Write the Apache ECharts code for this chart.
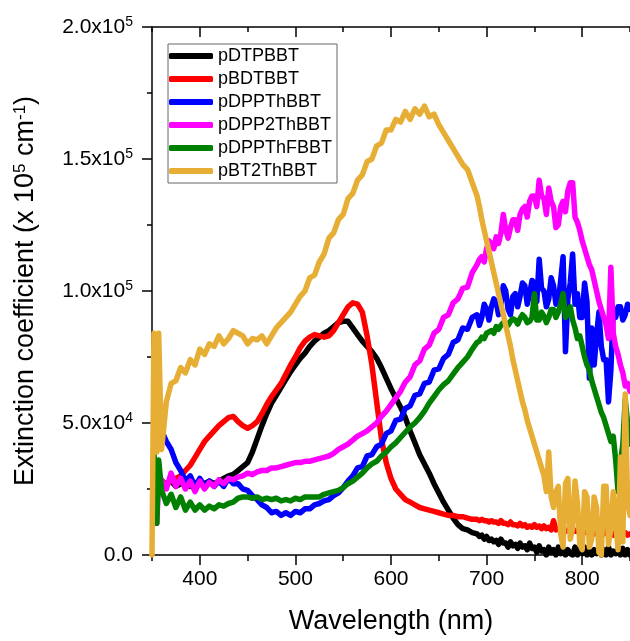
<!DOCTYPE html>
<html>
<head>
<meta charset="utf-8">
<script src="https://cdn.jsdelivr.net/npm/echarts@6/dist/echarts.min.js"></script>
<style>
html,body{margin:0;padding:0;background:#fff;}
#chart{width:630px;height:641px;}
</style>
</head>
<body>
<div id="chart"></div>
<script>
// Wavelength grid (nm)
const wavelengths = [350,352,355,357,
360,365,370,375,380,385,390,395,400,405,
410,415,420,425,430,435,440,445,450,455,
460,465,470,475,480,485,490,495,500,505,
510,515,520,525,530,535,540,545,550,555,
560,565,570,575,580,585,590,595,600,605,
610,615,620,625,630,635,640,645,650,655,
660,665,670,675,680,685,
690,692.5,695,697.5,700,702.5,705,707.5,
710,712.5,715,717.5,720,722.5,725,727.5,
730,732.5,735,737.5,740,742.5,745,747.5,
750,752.5,755,757.5,760,762.5,765,767.5,
770,772.5,775,777.5,780,782.5,785,787.5,
790,792.5,795,797.5,800,802.5,805,807.5,
810,812.5,815,817.5,820,822.5,825,827.5,
830,832.5,835,837.5,840,842.5,845,847.5,
850];

// Extinction coefficient values in units of 1e4 cm^-1
const pDTPBBT = [null,null,2.9,2.6,
2.8,2.7,2.8,2.6,2.7,2.8,2.6,2.7,2.8,2.7,
2.8,2.7,2.8,2.9,3.0,3.05,3.2,3.35,3.5,3.9,
4.4,4.9,5.35,5.75,6.05,6.35,6.65,6.95,7.2,7.45,
7.65,7.9,8.1,8.25,8.4,8.5,8.65,8.8,8.85,8.85,
8.6,8.35,8.1,7.9,7.7,7.45,7.1,6.7,6.3,5.95,
5.6,5.2,4.7,4.25,3.8,3.45,3.1,2.7,2.35,2.0,
1.7,1.4,1.15,1.0,0.95,0.85,
0.8,0.7,0.75,0.6,0.7,0.55,0.6,0.5,
0.55,0.4,0.6,0.45,0.45,0.3,0.5,0.35,
0.4,0.25,0.45,0.3,0.35,0.2,0.45,0.25,
0.3,0.1,0.35,0.15,0.2,0.0,0.3,0.1,
0.2,0.0,0.3,0.05,0.25,0.0,0.2,0.05,
0.0,0.3,0.0,0.2,0.05,0.3,0.0,0.15,
0.0,0.2,0.05,0.25,0.0,0.2,0.0,0.3,
0.0,0.15,0.05,0.2,0.0,0.25,0.0,0.2,
0.0];

const pBDTBBT = [null,null,null,null,
2.8,2.7,2.8,2.9,3.0,3.2,3.4,3.7,4.0,4.3,
4.5,4.7,4.9,5.05,5.2,5.25,5.05,4.9,4.8,4.9,
5.05,5.35,5.7,6.0,6.25,6.5,6.85,7.2,7.5,7.85,
8.1,8.25,8.35,8.3,8.25,8.3,8.5,8.8,9.1,9.4,
9.55,9.5,9.2,8.3,7.2,5.8,4.4,3.5,2.9,2.5,
2.3,2.1,2.0,1.9,1.8,1.75,1.7,1.65,1.6,1.55,
1.5,1.5,1.45,1.45,1.4,1.35,
1.35,1.3,1.35,1.3,1.3,1.25,1.3,1.25,
1.25,1.2,1.3,1.2,1.2,1.15,1.25,1.15,
1.15,1.1,1.2,1.1,1.15,1.05,1.1,1.05,
1.15,1.05,1.1,1.0,1.1,1.0,1.05,0.95,
1.3,0.95,1.0,0.9,1.0,0.9,0.95,0.9,
1.0,0.9,0.9,0.85,0.95,0.85,0.9,0.85,
0.85,0.8,0.9,0.8,0.85,0.8,0.9,0.8,
0.8,0.75,0.85,0.75,0.8,0.75,0.85,0.75,
0.8];

const pDPPThBBT = [null,5.2,4.9,4.8,
4.7,4.3,4.0,3.5,3.2,2.8,3.0,2.6,2.9,2.6,
2.8,2.6,2.8,2.6,2.9,2.7,2.7,2.5,2.45,2.25,
2.1,1.9,1.8,1.6,1.65,1.5,1.6,1.5,1.65,1.6,
1.75,1.75,1.9,1.95,2.05,2.1,2.25,2.35,2.55,2.8,
3.0,3.3,3.35,3.75,3.8,4.1,4.2,4.6,4.7,5.1,
5.15,5.55,5.65,6.05,6.1,6.5,6.55,7.0,7.05,7.45,
7.6,8.05,8.15,8.6,8.55,9.0,
9.1,8.7,9.0,9.5,9.3,8.9,9.4,9.7,
9.6,9.1,9.5,10.2,10.0,9.3,9.1,9.8,
9.9,9.4,9.8,10.3,10.2,9.5,9.9,10.4,
10.3,9.6,11.2,10.1,10.0,9.4,9.7,10.5,
10.2,9.5,9.6,10.4,11.3,7.7,9.7,10.3,
11.4,9.5,9.9,9.0,9.0,10.3,9.6,6.7,
8.6,7.2,8.3,9.2,7.9,7.4,7.4,5.8,
7.0,9.3,9.0,9.4,9.4,8.9,9.1,9.5,
9.3];

const pDPP2ThBBT = [null,1.6,1.2,2.9,
2.85,2.5,3.1,2.6,2.9,2.5,2.8,2.4,2.8,2.5,
2.75,2.6,2.85,2.7,2.9,2.85,2.95,3.0,3.1,3.05,
3.15,3.2,3.2,3.3,3.3,3.35,3.4,3.45,3.5,3.5,
3.55,3.55,3.6,3.65,3.7,3.75,3.85,4.0,4.1,4.2,
4.35,4.5,4.6,4.7,4.85,5.0,5.25,5.45,5.7,5.95,
6.2,6.55,6.75,7.2,7.35,7.8,7.95,8.4,8.55,9.0,
9.1,9.55,9.7,10.1,10.15,10.7,
11.0,11.2,11.3,11.1,11.6,11.9,11.8,11.6,
12.05,11.8,12.2,12.9,12.3,12.0,12.4,12.7,
12.7,12.3,12.9,13.1,13.2,12.8,13.4,13.6,
13.6,13.2,14.2,13.6,13.5,12.9,13.9,13.4,
13.2,12.4,12.5,13.2,13.4,13.0,13.8,14.1,
14.1,12.8,12.6,12.3,11.9,11.6,11.3,11.0,
10.8,10.4,10.0,9.6,9.3,9.0,8.7,8.2,
10.9,8.4,7.9,7.6,7.2,6.9,6.4,6.5,
6.2];

const pDPPThFBBT = [null,4.0,1.2,3.6,
2.45,1.95,2.3,1.8,2.2,1.7,2.0,1.7,1.9,1.7,
1.85,1.75,1.9,1.85,1.95,2.0,2.15,2.2,2.2,2.15,
2.2,2.1,2.15,2.1,2.15,2.05,2.1,2.05,2.15,2.1,
2.2,2.2,2.2,2.2,2.3,2.35,2.4,2.45,2.55,2.7,
2.8,2.95,3.1,3.3,3.45,3.55,3.75,3.9,4.1,4.25,
4.45,4.65,4.85,5.0,5.2,5.45,5.75,6.0,6.25,6.45,
6.6,6.85,7.1,7.3,7.5,7.8,
8.05,8.1,8.25,8.2,8.4,8.45,8.5,8.4,
8.65,8.55,8.7,8.8,8.8,8.7,8.85,8.95,
8.9,8.75,8.95,9.1,9.0,8.8,8.85,9.0,
9.9,8.9,8.9,9.2,9.05,8.8,9.0,9.3,
9.3,9.0,9.2,9.5,9.9,9.0,9.15,9.4,
8.9,8.6,8.2,8.3,7.9,7.5,7.2,7.0,
6.6,6.3,6.0,5.7,5.4,5.2,4.9,4.6,
4.3,4.5,3.6,2.4,3.5,4.2,5.9,5.0,
4.2];

const pBT2ThBBT = [0,8.4,3.9,8.4,
4.0,5.8,6.5,6.6,7.1,6.9,7.4,7.2,7.8,7.6,
8.0,7.9,8.3,8.0,8.2,8.5,8.4,8.3,8.0,8.2,
8.15,8.3,8.0,8.3,8.6,8.8,9.0,9.2,9.5,9.8,
10.0,10.5,10.6,11.1,11.4,12.0,12.2,12.7,12.9,13.5,
13.7,14.2,14.4,14.9,15.0,15.5,15.6,16.1,16.1,16.5,
16.4,16.8,16.5,16.9,16.7,17.0,16.6,16.7,16.3,16.0,
15.7,15.4,15.1,14.8,14.6,14.1,
13.6,13.2,12.7,12.3,11.9,11.5,11.1,10.7,
10.3,9.9,9.5,9.1,8.7,8.3,7.9,7.4,
7.0,6.6,6.2,5.8,5.5,5.1,4.8,4.5,
4.2,3.9,3.6,3.3,3.0,2.4,3.9,2.2,
1.8,2.4,2.6,0.8,0.3,2.7,2.9,0.6,
1.0,2.8,2.0,0.4,0.2,2.4,2.2,0.3,
0.6,2.2,1.8,0.1,0.0,2.6,2.6,0.4,
1.0,2.4,1.2,0.2,3.7,0.5,6.1,2.0,
1.5];

const seriesNames = ['pDTPBBT','pBDTBBT','pDPPThBBT','pDPP2ThBBT','pDPPThFBBT','pBT2ThBBT'];
const seriesValues = [pDTPBBT,pBDTBBT,pDPPThBBT,pDPP2ThBBT,pDPPThFBBT,pBT2ThBBT];
const seriesColors = ['#000000','#ff0000','#0000ff','#ff00ff','#008000','#e6ae35'];

// Axis ticks
const xMajorTicks = [400,500,600,700,800];
const xMinorTicks = [350,450,550,650,750,850];
const yTickValues = [0,5,10,15,20];
const yTickMantissa = ['0.0','5.0','1.0','1.5','2.0'];
const yTickExponent = ['','4','5','5','5'];

const FONT = "'Liberation Sans', Arial, sans-serif";
const chart = echarts.init(document.getElementById('chart'), null, {renderer:'canvas'});

const baseX = {
  type:'value', min:350, max:850, gridIndex:0,
  splitLine:{show:false}
};

const option = {
  animation:false,
  backgroundColor:'#ffffff',
  textStyle:{fontFamily:FONT},
  grid:{left:152, top:27, width:480, height:528},
  legend:{
    orient:'vertical', left:168, top:44,
    padding:[3,5,3,1],
    itemGap:5, itemWidth:44, itemHeight:6,
    icon:'roundRect',
    borderColor:'#666666', borderWidth:1,
    textStyle:{fontSize:18, color:'#000', fontFamily:FONT},
    data:seriesNames
  },
  xAxis:[
    Object.assign({}, baseX, {
      position:'bottom',
      name:'Wavelength (nm)', nameLocation:'middle', nameGap:53,
      nameTextStyle:{fontSize:27, color:'#000', fontFamily:FONT},
      axisLine:{show:true, onZero:false, lineStyle:{color:'#000', width:1.5}},
      axisTick:{show:true, inside:false, length:10, customValues:xMajorTicks, lineStyle:{color:'#000', width:1.5}},
      axisLabel:{show:true, customValues:xMajorTicks, margin:14, fontSize:21, color:'#000', fontFamily:FONT}
    }),
    Object.assign({}, baseX, {
      position:'bottom',
      axisLine:{show:false, onZero:false},
      axisTick:{show:true, inside:false, length:6, customValues:xMinorTicks, lineStyle:{color:'#000', width:1.5}},
      axisLabel:{show:false}
    }),
    Object.assign({}, baseX, {
      position:'top',
      axisLine:{show:true, onZero:false, lineStyle:{color:'#000', width:1.5}},
      axisTick:{show:true, inside:true, length:10, customValues:xMajorTicks, lineStyle:{color:'#000', width:1.5}},
      axisLabel:{show:false}
    }),
    Object.assign({}, baseX, {
      position:'top',
      axisLine:{show:false, onZero:false},
      axisTick:{show:true, inside:true, length:5, customValues:xMinorTicks, lineStyle:{color:'#000', width:1.5}},
      axisLabel:{show:false}
    })
  ],
  yAxis:[{
    type:'value', min:0, max:20, interval:5,
    position:'left',
    splitLine:{show:false},
    name:'Extinction coefficient (x 10{s|5} cm{s|-1})',
    nameLocation:'middle', nameRotate:90, nameGap:113,
    nameTextStyle:{fontSize:27, color:'#000', fontFamily:FONT,
      rich:{s:{fontSize:17, verticalAlign:'top', color:'#000', fontFamily:FONT}}},
    axisLine:{show:true, onZero:false, lineStyle:{color:'#000', width:1.5}},
    axisTick:{show:true, inside:false, length:10, lineStyle:{color:'#000', width:1.5}},
    minorTick:{show:true, splitNumber:2, length:5, lineStyle:{color:'#000', width:1.5}},
    axisLabel:{
      margin:19, fontSize:21, color:'#000', fontFamily:FONT,
      formatter:function(v){
        const i = yTickValues.indexOf(v);
        if(i<0) return '';
        if(!yTickExponent[i]) return '{b|'+yTickMantissa[i]+'}';
        return '{b|'+yTickMantissa[i]+'x10}{s|'+yTickExponent[i]+'}';
      },
      rich:{
        b:{fontSize:21, color:'#000', fontFamily:FONT, lineHeight:24},
        s:{fontSize:14, color:'#000', fontFamily:FONT, verticalAlign:'top', lineHeight:14}
      }
    }
  }],
  series: seriesNames.map(function(name, k){
    return {
      name:name, type:'line', xAxisIndex:0, yAxisIndex:0,
      data: wavelengths.map(function(w,i){ return [w, seriesValues[k][i]]; }),
      showSymbol:false, symbol:'none',
      lineStyle:{color:seriesColors[k], width:5.5, cap:'round', join:'round'},
      itemStyle:{color:seriesColors[k]},
      connectNulls:false
    };
  })
};
chart.setOption(option);
</script>
</body>
</html>
